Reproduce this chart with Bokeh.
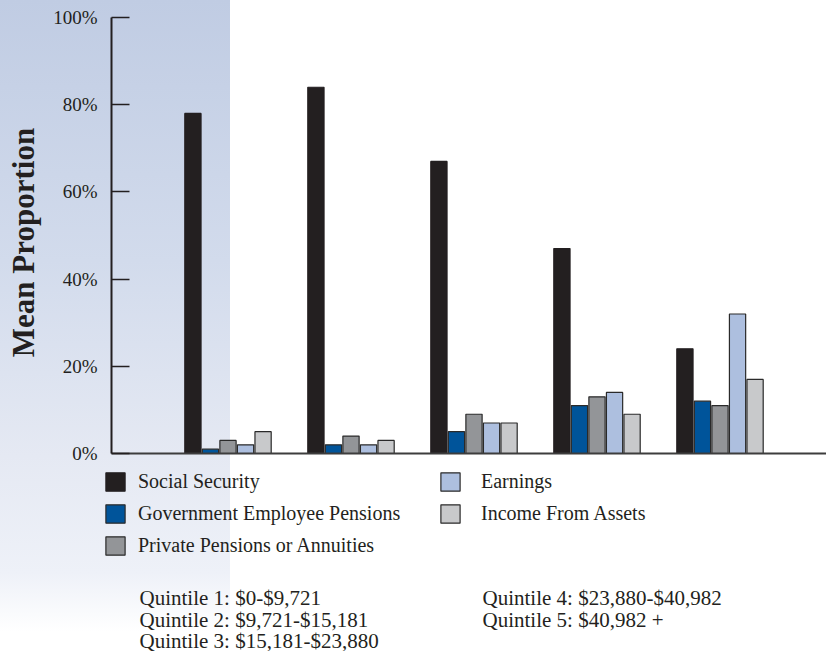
import math
from bokeh.plotting import figure
from bokeh.models import (ColumnDataSource, Legend, LegendItem, Label, FixedTicker,
                          PrintfTickFormatter, Range1d)
from bokeh.transform import dodge
from bokeh.embed import file_html
from bokeh.resources import INLINE

# ---------------- data ----------------
quintiles = [1, 2, 3, 4, 5]
social_security = [78, 84, 67, 47, 24]
gov_pensions = [1, 2, 5, 11, 12]
private_pensions = [3, 4, 9, 13, 11]
earnings = [2, 2, 7, 14, 32]
income_assets = [5, 3, 7, 9, 17]

series_keys = ["ss", "gov", "priv", "earn", "inc"]
series_names = ["Social Security", "Government Employee Pensions",
                "Private Pensions or Annuities", "Earnings", "Income From Assets"]
series_colors = ["#231f20", "#00549a", "#939598", "#adbfdf", "#c8c9cb"]

y_ticks = [0, 20, 40, 60, 80, 100]
y_title = "Mean Proportion"
quintile_col1 = ["Quintile 1: $0-$9,721", "Quintile 2: $9,721-$15,181",
                 "Quintile 3: $15,181-$23,880"]
quintile_col2 = ["Quintile 4: $23,880-$40,982", "Quintile 5: $40,982 +"]

FONT = "Liberation Serif"
INK = "#231f20"

W, H = 826, 651
PX_X = 123.0     # pixels per quintile step
PX_Y = 4.36      # pixels per percentage point
x0 = 1 - 227.5 / PX_X
y0 = -(H - 453) / PX_Y
axis_x = x0 + 111 / PX_X

src = ColumnDataSource(dict(q=quintiles, ss=social_security, gov=gov_pensions,
                            priv=private_pensions, earn=earnings, inc=income_assets))

p = figure(width=W, height=H, output_backend="svg", toolbar_location=None,
           x_range=Range1d(x0, x0 + W / PX_X),
           y_range=Range1d(y0, y0 + H / PX_Y),
           min_border_left=0, min_border_right=0, min_border_top=0,
           min_border_bottom=0,
           background_fill_color=None, border_fill_color=None,
           outline_line_color=None)
p.styles = {
    "background-image": "linear-gradient(to bottom, #c0cce3 0%, #d2dbec 40%, "
                        "#e5e9f3 70%, #eef1f8 88%, #ffffff 97%)",
    "background-size": "230px 100%",
    "background-repeat": "no-repeat",
}
p.grid.visible = False

pitch = 0.1426
bw = 0.132
offsets = [-2, -1, 0, 1, 2]
renderers = []
for i, key in enumerate(series_keys):
    r = p.vbar(x=dodge("q", offsets[i] * pitch), top=key, width=bw, source=src,
               fill_color=series_colors[i],
               line_color=series_colors[i] if i == 0 else "#2a2a2a",
               line_width=1.2)
    renderers.append(r)

# y axis (drawn inside the frame at a fixed location)
ya = p.yaxis[0]
ya.fixed_location = axis_x
ya.bounds = (0, 100)
ya.ticker = FixedTicker(ticks=y_ticks)
ya.formatter = PrintfTickFormatter(format="%d%%")
ya.major_tick_in = 18
ya.major_tick_out = 0
ya.minor_tick_line_color = None
ya.major_tick_line_color = INK
ya.major_tick_line_width = 1.5
ya.axis_line_color = INK
ya.axis_line_width = 2
ya.major_label_standoff = 14
ya.major_label_text_font = FONT
ya.major_label_text_font_size = "19px"
ya.major_label_text_color = INK

# y-axis title as rotated text
p.add_layout(Label(x=23, y=H - 242, x_units="screen", y_units="screen",
                   text=y_title, angle=math.pi / 2, angle_units="rad",
                   text_font=FONT, text_font_size="31px", text_font_style="bold",
                   text_color=INK, text_align="center", text_baseline="middle"))

# x axis: baseline only
xa = p.xaxis[0]
xa.fixed_location = 0
xa.bounds = (axis_x, x0 + W / PX_X)
xa.ticker = FixedTicker(ticks=[])
xa.major_tick_line_color = None
xa.minor_tick_line_color = None
xa.major_label_text_font_size = "0px"
xa.axis_line_color = "#3d3d3d"
xa.axis_line_width = 2

legend_common = dict(orientation="vertical", glyph_width=24, glyph_height=23,
                     label_height=23, spacing=9, padding=0, margin=0,
                     border_line_color=None, background_fill_alpha=0,
                     label_text_font=FONT, label_text_font_size="20px",
                     label_text_color=INK)
leg1 = Legend(items=[LegendItem(label=series_names[i], renderers=[renderers[i]])
                     for i in range(3)], location=(103, 94), label_standoff=11,
              **legend_common)
leg2 = Legend(items=[LegendItem(label=series_names[i], renderers=[renderers[i]])
                     for i in range(3, 5)], location=(438, 126), label_standoff=19,
              **legend_common)
p.add_layout(leg1)
p.add_layout(leg2)

line_y = [54, 32, 11]
for col_x, col in ((139, quintile_col1), (482, quintile_col2)):
    for txt, yy in zip(col, line_y):
        p.add_layout(Label(x=col_x, y=yy, x_units="screen", y_units="screen",
                           text=txt, text_font=FONT, text_font_size="21px",
                           text_color=INK, text_baseline="alphabetic"))

open("out.html", "w").write(file_html(p, INLINE))
